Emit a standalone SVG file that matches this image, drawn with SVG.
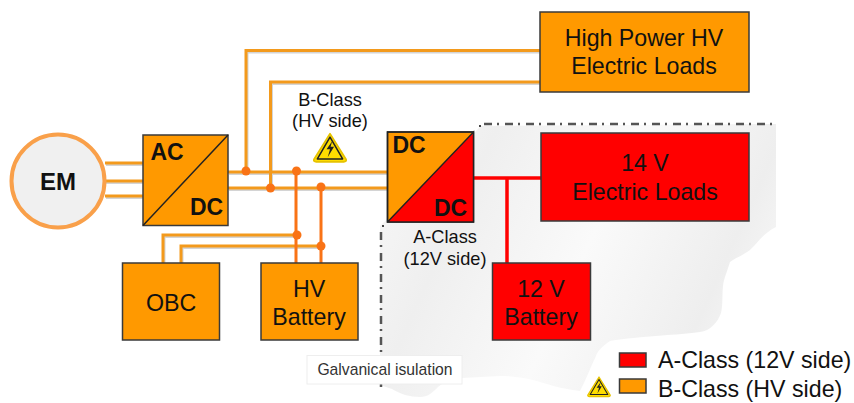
<svg xmlns="http://www.w3.org/2000/svg" width="854" height="403" viewBox="0 0 854 403">
<style>
text{font-family:"Liberation Sans",Arial,sans-serif;fill:#111}
.box{stroke:#3a3a3a;stroke-width:1.5}
.o{fill:#ff9900}.r{fill:#ff0000}
.w{fill:none;stroke:#f39a1c;stroke-width:3}
.sh{fill:none;stroke:#d4d4d4;stroke-width:3;transform:translate(1px,1.500px)}
.v{fill:none;stroke:#f97316;stroke-width:3}
.red{fill:none;stroke:#ff0000;stroke-width:3.500}
.j{fill:#f97316}
.l{font-size:23.200px;text-anchor:middle}
.b{font-size:23px;font-weight:bold;text-anchor:middle}
.s{font-size:18.200px;text-anchor:middle}
.leg{font-size:23.200px}
.dd{fill:none;stroke:#555;stroke-width:2.500;stroke-dasharray:8 5 2 6}
</style>
<defs>
<linearGradient id="bg" gradientUnits="userSpaceOnUse" x1="380" y1="120" x2="780" y2="300"><stop offset="0" stop-color="#f8f8f8"/><stop offset=".25" stop-color="#efefef"/><stop offset=".55" stop-color="#fafafa"/><stop offset=".85" stop-color="#eeeeee"/><stop offset="1" stop-color="#f8f8f8"/></linearGradient>
<g id="warn"><path d="M0,-12.500 L14,10 Q14.500,12 12,12 L-12,12 Q-14.500,12 -14,10 Z" fill="#ffdd00" stroke="#e6c200" stroke-width="1.500" stroke-linejoin="round"/><path d="M0,-9.500 L11,9.500 L-11,9.500 Z" fill="#ffdd00" stroke="#222" stroke-width="1.300" stroke-linejoin="round"/><path d="M2,-6 L-3,1 L0,1 L-2,8 L3.500,-1 L0.500,-1 Z" fill="#222"/></g>
</defs>
<g id="isolation-zone">
<path d="M380,226 L481,126 L776,124 L776,227 C762,234 757,244 750,250 C742,256 735,258 730,262 C727,272 724,278 723,286 C722,295 723,305 721,313 C718,322 710,331 700,332 C680,335 640,336 610,341 C602,346 597,352 596,356 C590,368 586,380 580,391 C560,389 545,383 533,380 C520,377 510,376 500,376 C487,377 475,377 462,378 C452,380 445,381 438,387 C432,393 428,397 420,397 C410,397 400,394 392,389 L380,385 Z" fill="url(#bg)"/>
<path class="dd" d="M484,124 H776"/>
<path d="M479,126 h2 M382,226 h2" stroke="#444" stroke-width="2" fill="none"/>
<path class="dd" d="M381,232 V390"/>
</g>
<g id="connectors">
<path class="sh" d="M105,163 H143 M105,181 H143 M105,196 H143 M228,172 H387 M228,188 H387 M246,171 V50.500 H540 M270.500,188 V82 H540 M163,263 V235 H296 M181,263 V246 H321"/>
<path class="w" d="M105,163 H143 M105,181 H143 M105,196 H143"/>
<path class="w" d="M228,172 H387 M228,188 H387"/>
<path class="w" d="M246,171 V50.500 H540 M270.500,188 V82 H540"/>
<path class="w" d="M163,263 V235 H296 M181,263 V246 H321"/>
<path class="v" d="M296,171 V263 M321,187 V263"/>
<path class="red" d="M473,178 H541 M507,178 V263"/>
<circle class="j" cx="246" cy="171" r="4.500"/>
<circle class="j" cx="270.500" cy="188" r="4.500"/>
<circle class="j" cx="296.500" cy="171" r="4.500"/>
<circle class="j" cx="321" cy="187" r="4.500"/>
<circle class="j" cx="297" cy="235" r="4.500"/>
<circle class="j" cx="321" cy="246" r="4.500"/>
</g>
<g id="em"><circle cx="58" cy="181" r="46.500" fill="#f0f0f0" stroke="#f9a04a" stroke-width="4"/><text class="b" x="58" y="190" style="font-size:24px">EM</text></g>
<g id="acdc"><rect class="box o" x="143" y="135" width="85" height="90.500"/><path d="M143,225.500 L228,135" stroke="#222" stroke-width="1.500"/><text class="b" x="167" y="160">AC</text><text class="b" x="206.500" y="215">DC</text></g>
<g id="dcdc"><rect class="box o" x="387.500" y="132" width="86" height="90"/><path class="r" d="M387.500,222 L473.500,132 V222 Z"/><path d="M387.500,222 L473.500,132 V222 H387.500 V132 H473.500" fill="none" stroke="#222" stroke-width="1.500"/><text class="b" x="409" y="153">DC</text><text class="b" x="450.500" y="216">DC</text></g>
<g id="hp-loads"><rect class="box o" x="540" y="12" width="209" height="80"/><text class="l" x="644" y="46">High Power HV</text><text class="l" x="644" y="74">Electric Loads</text></g>
<g id="loads-14v"><rect class="box r" x="541" y="133" width="208" height="88"/><text class="l" x="645" y="171">14 V</text><text class="l" x="645" y="200">Electric Loads</text></g>
<g id="battery-12v"><rect class="box r" x="492.500" y="263" width="98" height="77"/><text class="l" x="541" y="297">12 V</text><text class="l" x="541" y="325">Battery</text></g>
<g id="obc"><rect class="box o" x="122.500" y="263" width="97" height="77"/><text class="l" x="171" y="311">OBC</text></g>
<g id="hv-battery"><rect class="box o" x="261" y="263" width="97" height="77"/><text class="l" x="309" y="297">HV</text><text class="l" x="309" y="325">Battery</text></g>
<g id="label-b"><text class="s" x="330" y="106">B-Class</text><text class="s" x="330" y="127">(HV side)</text><use href="#warn" transform="translate(330,148) scale(1.150)"/></g>
<g id="label-a"><text class="s" x="445" y="243">A-Class</text><text class="s" x="445" y="265">(12V side)</text></g>
<g id="galvanical"><rect x="307" y="355.500" width="155" height="28.500" fill="#fff" stroke="#eee"/><text x="385" y="375" style="font-size:15.700px;text-anchor:middle;fill:#333">Galvanical isulation</text></g>
<g id="legend"><rect class="box r" x="619.500" y="353" width="26.500" height="14"/><text class="leg" x="658" y="368">A-Class (12V side)</text><rect class="box o" x="619.500" y="379" width="26.500" height="14"/><text class="leg" x="658" y="397">B-Class (HV side)</text><use href="#warn" transform="translate(599,387) scale(.8)"/></g>
</svg>
